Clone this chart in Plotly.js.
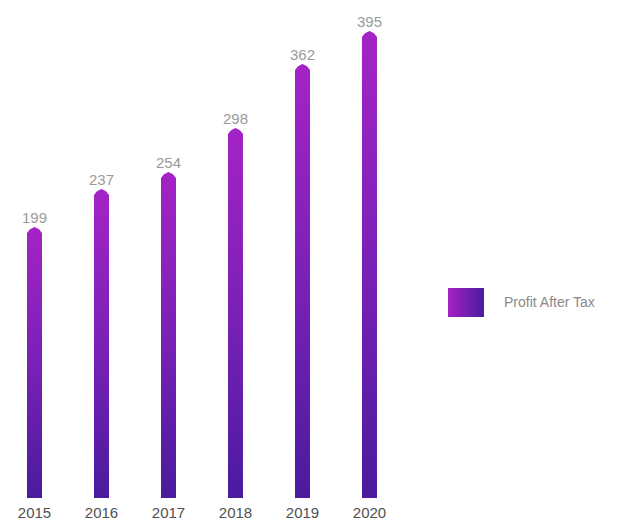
<!DOCTYPE html>
<html>
<head>
<meta charset="utf-8">
<script src="https://cdn.plot.ly/plotly-3.0.1.min.js"></script>
<style>html,body{margin:0;padding:0;background:#fff;}#chart{width:626px;height:522px;}</style>
</head>
<body>
<div id="chart"></div>
<script>
// ---- data ----
var years = ['2015', '2016', '2017', '2018', '2019', '2020'];
var profitAfterTax = [199, 237, 254, 298, 362, 395];
var seriesName = 'Profit After Tax';

// ---- style ----
var BAR_BASE = -72;      // visual baseline of the bars (as in the original infographic)
var HALF_W = 0.112;      // half bar width in category units
var TIP = 6;             // depth of the pointed cap, in axis units
var gradV = [[0, '#4a1b9e'], [0.5, '#7a21b6'], [1, '#a423c5']];
var gradH = [[0, '#a423c5'], [1, '#4a1b9e']];

var traces = [];
profitAfterTax.forEach(function (v, i) {
  traces.push({
    type: 'scatter', mode: 'lines',
    x: [i - HALF_W, i - HALF_W, i - 0.6 * HALF_W, i, i + 0.6 * HALF_W, i + HALF_W, i + HALF_W, i - HALF_W],
    y: [BAR_BASE, v - TIP, v - 2.2, v, v - 2.2, v - TIP, BAR_BASE, BAR_BASE],
    fill: 'toself',
    fillgradient: { type: 'vertical', colorscale: gradV },
    line: { width: 0 },
    hoverinfo: 'skip', showlegend: false
  });
});
traces.push({
  type: 'scatter', mode: 'text',
  x: years.map(function (_, i) { return i; }),
  y: profitAfterTax,
  text: profitAfterTax.map(String),
  textposition: 'top center',
  textfont: { family: 'Liberation Sans, Arial, sans-serif', size: 15, color: '#9a9a9a' },
  hoverinfo: 'skip', showlegend: false
});
// legend swatch
traces.push({
  type: 'scatter', mode: 'lines', xaxis: 'x2', yaxis: 'y2',
  x: [0, 1, 1, 0, 0], y: [0, 0, 1, 1, 0],
  fill: 'toself',
  fillgradient: { type: 'horizontal', colorscale: gradH },
  line: { width: 0 }, hoverinfo: 'skip', showlegend: false
});

var layout = {
  width: 626, height: 522,
  margin: { l: 1, r: 1, t: 0, b: 24 },
  paper_bgcolor: '#ffffff', plot_bgcolor: '#ffffff',
  showlegend: false,
  font: { family: 'Liberation Sans, Arial, sans-serif' },
  xaxis: {
    domain: [0, 0.6442], range: [-0.5, 5.5],
    tickmode: 'array', tickvals: years.map(function (_, i) { return i; }), ticktext: years,
    showgrid: false, zeroline: false, showline: false, ticks: '',
    ticklabelstandoff: 4,
    tickfont: { size: 15, color: '#505050' }, fixedrange: true
  },
  yaxis: {
    range: [BAR_BASE, BAR_BASE + 498],
    visible: false, showgrid: false, zeroline: false, fixedrange: true
  },
  xaxis2: { domain: [0.7163, 0.774], range: [0, 1], visible: false, anchor: 'y2', fixedrange: true },
  yaxis2: { domain: [0.3635, 0.4217], range: [0, 1], visible: false, anchor: 'x2', fixedrange: true },
  annotations: [{
    xref: 'paper', yref: 'paper', x: 0.803, y: 0.3936,
    xanchor: 'left', yanchor: 'middle', showarrow: false,
    text: seriesName,
    font: { family: 'Liberation Sans, Arial, sans-serif', size: 14, color: '#8a8a8a' }
  }]
};

Plotly.newPlot('chart', traces, layout, { displayModeBar: false, staticPlot: true });
</script>
</body>
</html>
